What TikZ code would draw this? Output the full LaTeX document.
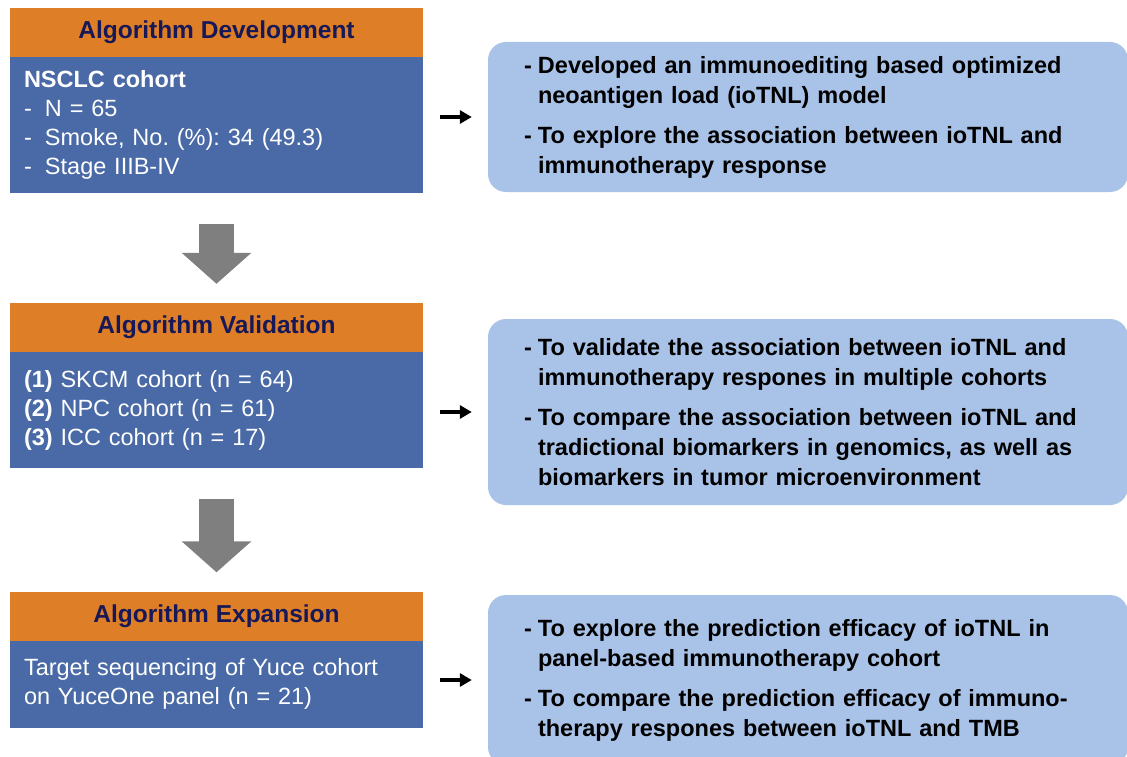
\documentclass[tikz,border=0pt]{standalone}
\usepackage{fontspec}
\setmainfont{Liberation Sans}
\usetikzlibrary{arrows.meta,positioning}
\definecolor{hdorange}{RGB}{222,126,38}
\definecolor{bodyblue}{RGB}{73,106,166}
\definecolor{navytext}{RGB}{22,24,88}
\definecolor{aimblue}{RGB}{168,194,232}
\definecolor{arrowgray}{RGB}{127,127,127}
\frenchspacing

\begin{document}
\begin{tikzpicture}[x=1pt,y=-1pt,
  head/.style={rectangle, fill=hdorange, minimum width=413pt, minimum height=49pt, inner sep=0pt, font=\fontsize{24.5}{29}\selectfont\bfseries, text=navytext},
  cohort/.style={rectangle, fill=bodyblue, minimum width=413pt, inner xsep=14pt, inner ysep=0pt, text width=385pt, align=left, font=\fontsize{23.5}{29}\selectfont, text=white},
  aim/.style={rectangle, rounded corners=18pt, fill=aimblue, minimum width=640pt, inner xsep=36pt, inner ysep=0pt, text width=568pt, align=left, font=\fontsize{23.5}{30}\selectfont\bfseries},
  bigarrow/.style={draw=arrowgray, line width=35pt, -{Triangle[length=31pt,width=68pt]}, shorten <=30pt, shorten >=19pt},
  smallarrow/.style={line width=3.5pt, -{Triangle[length=12pt,width=13pt]}, shorten <=17pt, shorten >=16pt}]
\useasboundingbox (0,0) rectangle (1127,757);

% left column
\node[head] (devhead) at (216.5,32.5) {Algorithm Development};
\node[cohort, minimum height=136pt, below=0pt of devhead] (devbody) {\textbf{NSCLC cohort}\\
\makebox[21pt][l]{-}N = 65\\
\makebox[21pt][l]{-}Smoke, No. (\%): 34 (49.3)\\
\makebox[21pt][l]{-}Stage IIIB-IV};

\node[head] (valhead) at (216.5,327.5) {Algorithm Validation};
\node[cohort, minimum height=116pt, below=0pt of valhead] (valbody) {\textbf{(1)} SKCM cohort (n = 64)\\
\textbf{(2)} NPC cohort (n = 61)\\
\textbf{(3)} ICC cohort (n = 17)};

\node[head] (exphead) at (216.5,616) {Algorithm Expansion};
\node[cohort, minimum height=87pt, below=0pt of exphead] (expbody) {Target sequencing of Yuce cohort\\
on YuceOne panel (n = 21)};

% right column
\node[aim, minimum height=150pt] (devaim) at (808,117) {\makebox[14pt][l]{-}Developed an immunoediting based optimized\\
\hspace*{14pt}neoantigen load (ioTNL) model\\[10pt]
\makebox[14pt][l]{-}To explore the association between ioTNL and\\
\hspace*{14pt}immunotherapy response};

\node[aim, minimum height=186pt] (valaim) at (808,412) {\makebox[14pt][l]{-}To validate the association between ioTNL and\\
\hspace*{14pt}immunotherapy respones in multiple cohorts\\[10pt]
\makebox[14pt][l]{-}To compare the association between ioTNL and\\
\hspace*{14pt}tradictional biomarkers in genomics, as well as\\
\hspace*{14pt}biomarkers in tumor microenvironment};

\node[aim, minimum height=170pt] (expaim) at (808,680) {\makebox[14pt][l]{-}To explore the prediction efficacy of ioTNL in\\
\hspace*{14pt}panel-based immunotherapy cohort\\[10pt]
\makebox[14pt][l]{-}To compare the prediction efficacy of immuno-\\
\hspace*{14pt}therapy respones between ioTNL and TMB};

% arrows
\draw[bigarrow] (devbody.south) -- (valhead.north);
\draw[bigarrow] (valbody.south) -- (exphead.north);
\draw[smallarrow] (devaim.west -| devbody.east) -- (devaim.west);
\draw[smallarrow] (valaim.west -| valbody.east) -- (valaim.west);
\draw[smallarrow] (expaim.west -| expbody.east) -- (expaim.west);
\end{tikzpicture}
\end{document}
